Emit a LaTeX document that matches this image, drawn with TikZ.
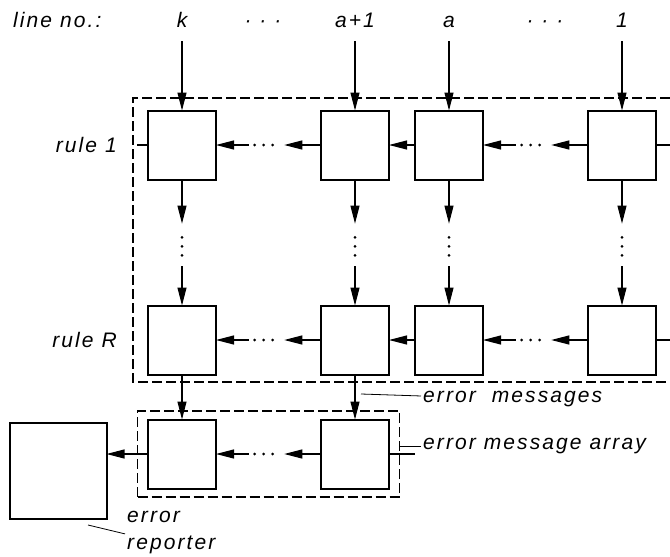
\documentclass[tikz,border=0pt]{standalone}
\usepackage{fontspec}
\setmainfont{Liberation Sans}[LetterSpace=10]
\usepackage{tikz}
\usetikzlibrary{arrows.meta,positioning,fit,calc}

\begin{document}
\begin{tikzpicture}[x=1pt,y=-1pt, every node/.style={font=\fontsize{21}{25}\selectfont\itshape, inner sep=2pt},
  flow/.style={line width=1.1pt, -{Triangle[length=18pt,width=9pt]}}]
\tikzstyle{cell}=[draw, line width=2pt, minimum width=68pt, minimum height=69pt, inner sep=0pt, outer sep=0pt]
\tikzstyle{link}=[line width=1.1pt]
\tikzstyle{leader}=[line width=0.8pt]
\tikzstyle{dots}=[line width=3pt, line cap=round, dash pattern=on 0pt off 9pt]
\tikzstyle{frame}=[line width=1.2pt, dash pattern=on 10pt off 4pt]
\tikzstyle{lbl}=[anchor=base, inner sep=1pt]
\useasboundingbox[fill=white] (0,0) rectangle (670,557);
% rule 1
\node[cell] (k1) at (182,145) {};
\node[cell, right=105pt of k1] (b1) {};
\node[cell, right=26pt of b1] (a1) {};
\node[cell, right=105pt of a1] (o1) {};
% rule R
\node[cell, below=126pt of k1] (kR) {};
\node[cell, right=105pt of kR] (bR) {};
\node[cell, right=26pt of bR] (aR) {};
\node[cell, right=105pt of aR] (oR) {};
% error message array and reporter
\node[cell, below=45pt of kR] (kE) {};
\node[cell, below=45pt of bR] (bE) {};
\node[cell, minimum width=97pt, minimum height=96pt] (rep) at (58,471) {};
% dashed frames
\coordinate (fTL) at (133,98); \coordinate (fBL) at (133,382); \coordinate (edge) at (670,0);
\draw[frame] (fTL -| edge) -- (fTL) -- (fBL) -- (fBL -| edge);
\node[frame, draw, fit=(kE)(bE), inner xsep=10.5pt, inner ysep=8.5pt] (arr) {};
% line numbers
\coordinate (top) at (0,27);
\node[lbl, anchor=base west] (lineno) at (12,27) {line no.:};
\node[lbl] (lk) at (k1 |- top) {k};
\node[lbl] (lb) at (b1 |- top) {a+1};
\node[lbl] (la) at (a1 |- top) {a};
\node[lbl] (lo) at (o1 |- top) {1};
\node[lbl] (dl) at (263,27) {· · ·};
\node[lbl] (dr) at (545,27) {· · ·};
\node[left=29pt of k1] (r1) {rule 1};
\node[left=29pt of kR] (rR) {rule R};
% connectors
\foreach \l/\c in {lk/k1, lb/b1, la/a1, lo/o1} \draw[flow, shorten <=13pt] (\l) -- (\c);
\draw[flow] (a1) -- (b1);
\draw[flow] (aR) -- (bR);
\draw[flow] (kE) -- (kE -| rep.east);
\foreach \s/\t in {b1/k1, o1/a1, bR/kR, oR/aR, bE/kE, k1/kR, b1/bR, a1/aR, o1/oR} {
  \path (\s) -- (\t) coordinate[pos=0.35] (p1) coordinate[pos=0.46] (p2) coordinate[pos=0.64] (p3) coordinate[pos=0.69] (p4);
  \draw[flow] (\s) -- (p1);
  \draw[dots] (p2) -- (p3);
  \draw[flow] (p4) -- (\t);
}
\draw[flow] (kR) -- (kE);
\draw[flow] (bR) -- (bE);
\draw[link] (o1) -- (o1 -| edge);
\draw[link] (oR) -- (oR -| edge);
\draw[link, shorten >=4pt] (k1) -- (k1 -| fTL);
\coordinate[right=26pt of bE.east] (bEout);
\draw[link] (bE) -- (bEout);
% labels with leaders
\node[anchor=west] (msg) at (421,399) {error\hspace{8pt} messages};
\coordinate (msgfoot) at (361,394);
\draw[leader] (msg) -- (msgfoot);
\node[anchor=west] (arrlbl) at (421,446) {error message array};
\draw[leader] (arrlbl) -- (arrlbl -| arr.east);
\node[anchor=west] (errw) at (125,517) {error};
\node[anchor=west] (repw) at (125,545) {reporter};
\coordinate (repfoot) at (88,525);
\draw[leader] (repfoot) -- (repw);
\end{tikzpicture}
\end{document}
